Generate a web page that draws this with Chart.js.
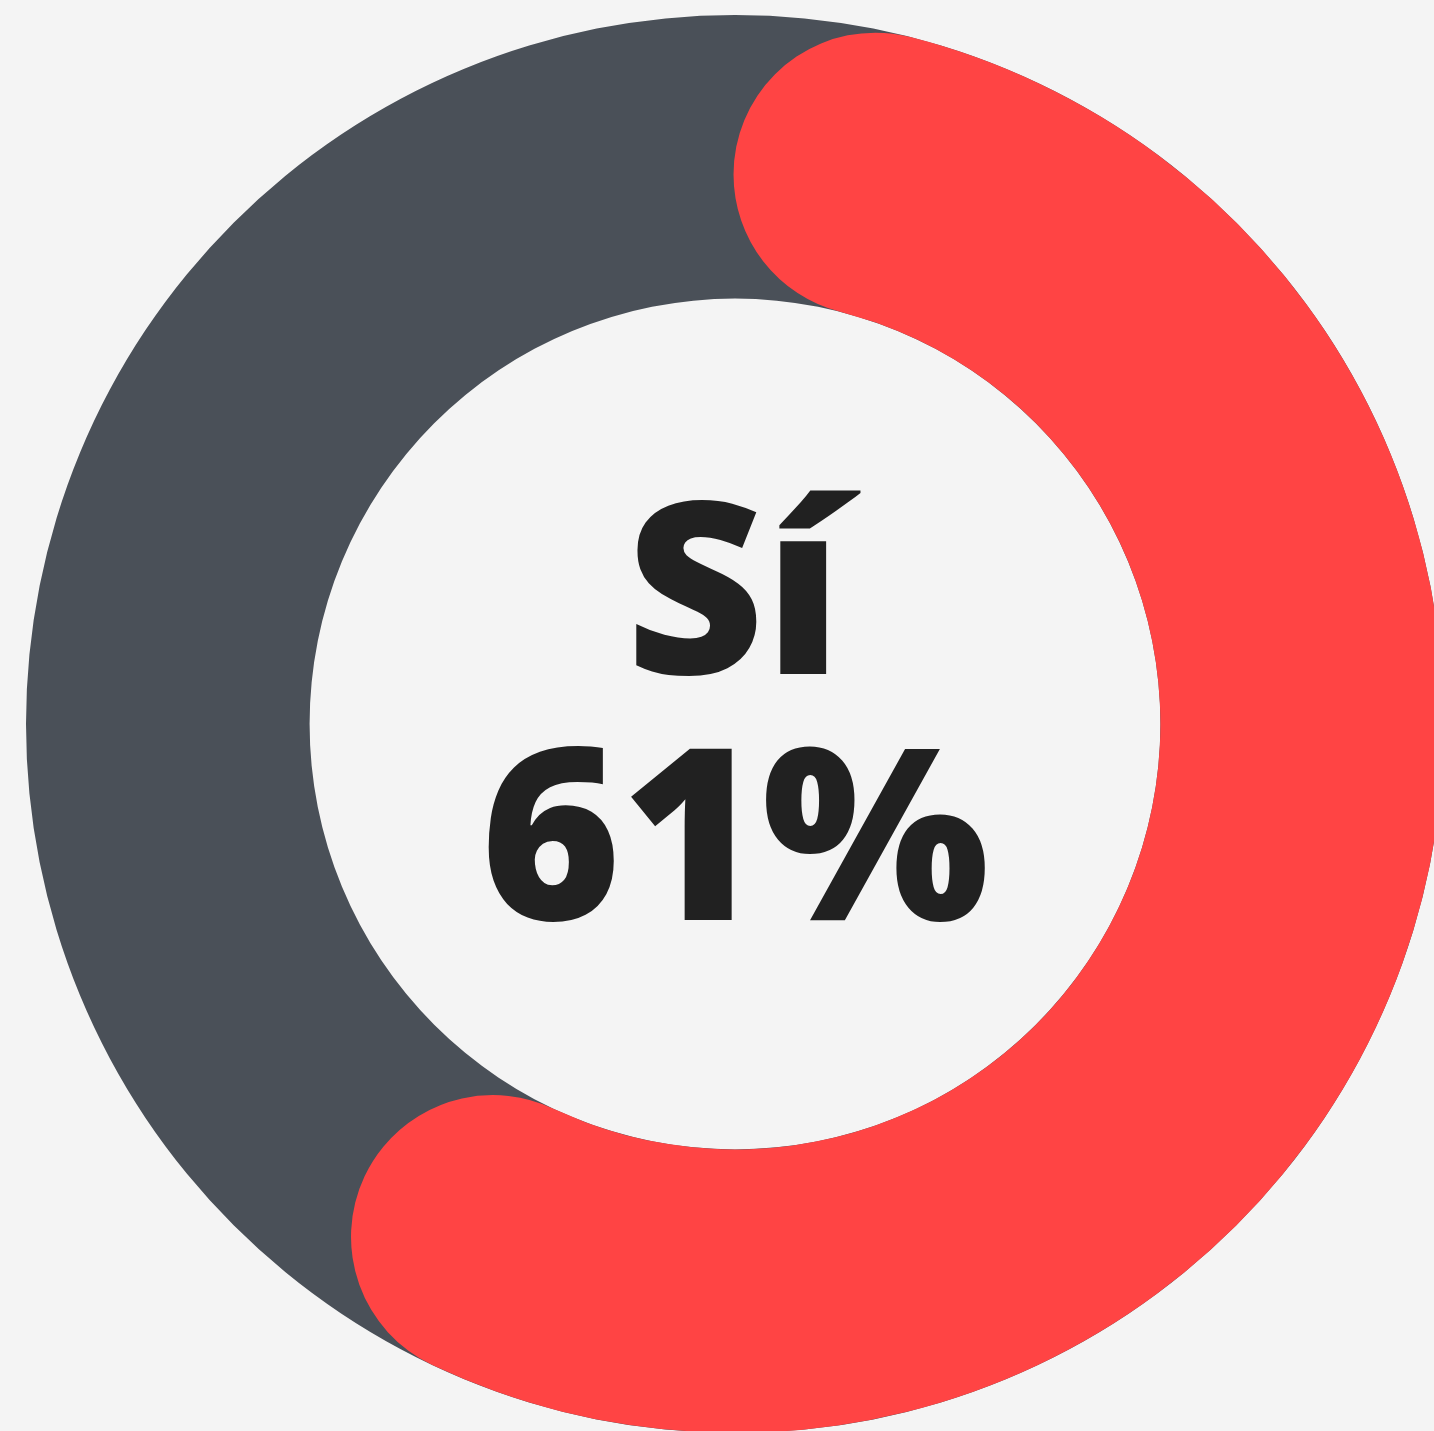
<!DOCTYPE html>
<html>
<head>
<meta charset="utf-8">
<script src="https://cdn.jsdelivr.net/npm/chart.js@4.4.1/dist/chart.umd.min.js"></script>
<style>
  html, body { margin: 0; padding: 0; overflow: hidden; background: #f4f4f4; }
  .wrap { position: absolute; left: 0; top: 0; width: 1470px; height: 1448px; }
</style>
</head>
<body>
<div class="wrap"><canvas id="track"></canvas></div>
<div class="wrap"><canvas id="votes"></canvas></div>
<script>
const labels = ['Sí', 'No'];
const values = [61, 39];
const colors = ['#ff4444', 'rgba(0,0,0,0)'];
const trackColor = '#4a5058';
const total = values.reduce((a, b) => a + b, 0);

const centerText = {
  id: 'centerText',
  afterDraw(chart) {
    const arc = chart.getDatasetMeta(0).data[0];
    if (!arc) return;
    const ctx = chart.ctx;
    ctx.save();
    ctx.fillStyle = '#212121';
    ctx.textAlign = 'center';
    ctx.textBaseline = 'alphabetic';
    ctx.font = "800 240px 'Open Sans'";
    ctx.fillText(labels[0], arc.x - 1, arc.y - 50);
    ctx.fillText(values[0] + '%', arc.x, arc.y + 196);
    ctx.restore();
  }
};

const baseOptions = {
  maintainAspectRatio: false,
  responsive: true,
  animation: false,
  events: [],
  cutout: '60%',
  layout: { padding: 15 },
  plugins: { legend: { display: false }, tooltip: { enabled: false } },
};

// grey track behind the whole ring
const track = new Chart(document.getElementById('track'), {
  type: 'doughnut',
  data: {
    labels: ['total'],
    datasets: [{
      data: [total],
      backgroundColor: [trackColor],
      borderWidth: 0,
    }],
  },
  options: baseOptions,
});

const votes = new Chart(document.getElementById('votes'), {
  type: 'doughnut',
  data: {
    labels: labels,
    datasets: [{
      data: values,
      backgroundColor: colors,
      borderWidth: 0,
      borderRadius: [999, 0],
    }],
  },
  options: baseOptions,
  plugins: [centerText],
});
</script>
</body>
</html>
